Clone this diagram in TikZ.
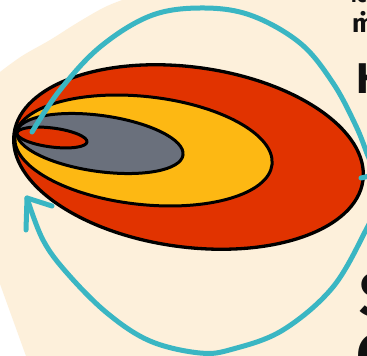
\documentclass[tikz,border=0pt]{standalone}
\usepackage{fontspec}
\setmainfont{Fira Sans}
\begin{document}
\begin{tikzpicture}[x=1pt,y=-1pt,
  outline/.style={draw=black,line width=3pt,line join=round},
  loop/.style={draw=tealc,line width=5pt,line cap=round,line join=round},
  frag/.style={anchor=base west,inner sep=0pt,text=inkc,font=\bfseries}]
\definecolor{cream}{HTML}{FDF0DB}
\definecolor{redc}{HTML}{E13300}
\definecolor{yel}{HTML}{FDB813}
\definecolor{grayc}{HTML}{6A707C}
\definecolor{tealc}{HTML}{3AB6C3}
\definecolor{inkc}{HTML}{111111}
\useasboundingbox (0,0) rectangle (367,356);
\clip (0,0) rectangle (367,356);
\fill[white] (0,0) rectangle (367,356);
% cream backdrop
\fill[cream] plot[smooth,tension=0.6] coordinates {(0,72) (22,56) (50,40) (77,23) (105,7) (128,-2)}
  -- (380,-2) -- (380,370) -- (30,370) -- (26,356) -- (0,284) -- cycle;
% nested ellipses
\path[outline,fill=redc,line width=3.3pt,rotate around={-7.67:(188.5,157)}] (188.5,157) ellipse [x radius=176,y radius=90];
\path[outline,fill=yel,rotate around={-6.2:(143.5,150.5)}] (143.5,150.5) ellipse [x radius=129.3,y radius=54];
\path[outline,fill=grayc,rotate around={-7.9:(100,143.5)}] (100,143.5) ellipse [x radius=83.8,y radius=28];
\path[outline,fill=redc,rotate around={-7.3:(52,137.5)}] (52,137.5) ellipse [x radius=35.3,y radius=9.5];
% named ends of the loops
\coordinate (ustart) at (32,132);
\coordinate (rpt) at (361,178);
\coordinate (lstart) at (382,190);
\coordinate (tip) at (27,198);
\coordinate (armA) at (26,230);
\coordinate (armB) at (52,206);
% upper loop
\draw[loop] plot[smooth,tension=0.6] coordinates {(ustart) (60,90) (100,47) (150,16) (200,8) (250,15) (300,43) (333,83) (356,126) (368,156) (375,172) (rpt)};
% lower loop
\draw[loop] plot[smooth,tension=0.6] coordinates {(lstart) (377,205) (367,228) (333,287) (283,330) (233,349) (200,353) (150,341) (107,313) (67,273) (43,240) (tip)};
\draw[loop] (armA) -- (tip) -- (armB);
% cut-off text at the right edge
\node[frag,font=\bfseries\fontsize{20}{20}\selectfont] (t0) at (351,2) {ic};
\node[frag,font=\bfseries\fontsize{26}{26}\selectfont] (t1) at (352,32) {\.{m}};
\node[frag,font=\bfseries\fontsize{43}{43}\selectfont] (t2) at (356,93) {H};
\node[frag,font=\bfseries\fontsize{62}{62}\selectfont] (t3) at (359,316) {S};
\node[frag,font=\bfseries\fontsize{62}{62}\selectfont] (t4) at (356,377) {C};
\end{tikzpicture}
\end{document}
